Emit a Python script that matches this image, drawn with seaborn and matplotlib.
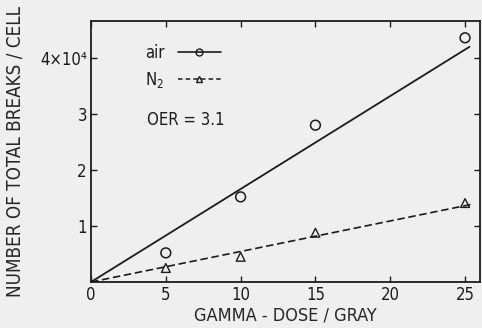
import matplotlib
matplotlib.use("Agg")
import matplotlib.pyplot as plt
from matplotlib.lines import Line2D
import numpy as np
import pandas as pd
import seaborn as sns

# Measured breaks per cell (units of 1e4) versus gamma dose
dose = [5, 10, 15, 25]
air_breaks = [0.52, 1.52, 2.80, 4.36]
n2_breaks = [0.25, 0.45, 0.88, 1.41]

# Linear fits through the origin (breaks per Gy, units of 1e4)
air_slope = 0.166
n2_slope = 0.0545
fit_end = [25.3, 25.5]

x_ticks = [0, 5, 10, 15, 20, 25]
x_tick_labels = ["0", "5", "10", "15", "20", "25"]
y_ticks = [1, 2, 3, 4]
y_tick_labels = ["1", "2", "3", "4×10⁴"]

sns.set_theme(style="ticks")
bg = "#efefef"
ink = "#1c1c1c"
plt.rcParams["font.family"] = ["DejaVu Sans"]
plt.rcParams["font.stretch"] = "condensed"
plt.rcParams["text.color"] = ink
plt.rcParams["axes.edgecolor"] = ink
plt.rcParams["xtick.color"] = ink
plt.rcParams["ytick.color"] = ink

fig = plt.figure(figsize=(4.82, 3.28), dpi=100, facecolor=bg)
ax = fig.add_axes([91 / 482, 46 / 328, 389 / 482, 261 / 328])
ax.set_facecolor(bg)

points = pd.DataFrame({
    "dose": dose * 2,
    "breaks": air_breaks + n2_breaks,
    "gas": ["air"] * len(dose) + ["N2"] * len(dose),
})
fits = pd.DataFrame({
    "dose": [0, fit_end[0], 0, fit_end[1]],
    "breaks": [0, air_slope * fit_end[0], 0, n2_slope * fit_end[1]],
    "gas": ["air", "air", "N2", "N2"],
})

sns.lineplot(data=fits[fits.gas == "air"], x="dose", y="breaks", ax=ax,
             color=ink, lw=1.3, legend=False)
sns.lineplot(data=fits[fits.gas == "N2"], x="dose", y="breaks", ax=ax,
             color=ink, lw=1.2, legend=False, dashes=False)
ax.lines[-1].set_dashes([4.5, 2.2])

sns.scatterplot(data=points[points.gas == "air"], x="dose", y="breaks", ax=ax,
                marker="o", s=50, facecolor="none", edgecolor=ink, linewidth=1.1,
                legend=False)
sns.scatterplot(data=points[points.gas == "N2"], x="dose", y="breaks", ax=ax,
                marker="^", s=40, facecolor="none", edgecolor=ink, linewidth=1.0,
                legend=False)

ax.set_xlim(0, 26)
ax.set_ylim(0, 4.66)
ax.set_xticks(x_ticks)
ax.set_xticklabels(x_tick_labels)
ax.set_yticks(y_ticks)
ax.set_yticklabels(y_tick_labels)
ax.tick_params(direction="in", length=4, width=1.0, labelsize=12,
               top=True, right=True, pad=3)
for s in ax.spines.values():
    s.set_linewidth(1.3)

ax.set_xlabel("GAMMA - DOSE / GRAY", fontsize=13, labelpad=2)
ax.set_ylabel("NUMBER OF TOTAL BREAKS / CELL", fontsize=13.5, labelpad=11)

handles = [
    Line2D([], [], color=ink, lw=1.2, marker="o", ms=5, mfc="none", mew=1.0),
    Line2D([], [], color=ink, lw=1.1, ls=(0, (3, 2)), marker="^", ms=4.5,
           mfc="none", mew=1.0),
]
ax.legend(handles, ["air", "N$_2$"], markerfirst=False, frameon=False,
          loc="upper left", bbox_to_anchor=(0.1, 0.97), fontsize=12,
          handlelength=2.6, handletextpad=0.8, labelspacing=0.5)
ax.text(0.145, 0.62, "OER = 3.1", transform=ax.transAxes, fontsize=12,
        va="center", ha="left")

fig.savefig("out.png", dpi=100, facecolor=bg)
